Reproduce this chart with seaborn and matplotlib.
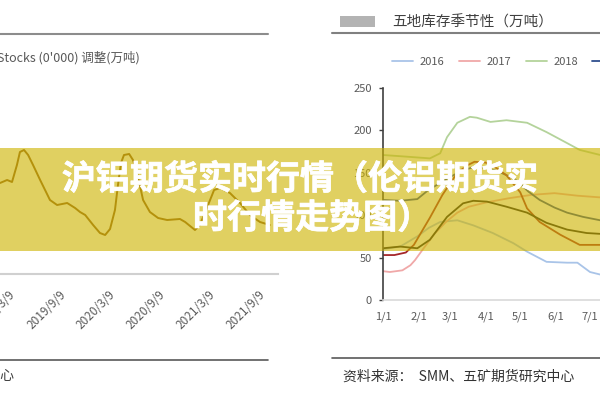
import pandas as pd
import numpy as np
import matplotlib
matplotlib.use("Agg")
import matplotlib.pyplot as plt
import matplotlib.patheffects as pe
import seaborn as sns
from matplotlib.lines import Line2D
from matplotlib.patches import Rectangle

# Left panel: stocks series (万吨)
stock_dates = ['2019-02-05', '2019-03-03', '2019-03-21', '2019-04-08', '2019-04-19',
               '2019-05-04', '2019-05-19', '2019-06-06', '2019-07-02', '2019-08-07',
               '2019-09-02', '2019-10-09', '2019-11-07', '2019-11-25', '2019-12-14',
               '2020-01-12', '2020-02-06', '2020-02-25', '2020-03-14', '2020-04-01',
               '2020-04-12', '2020-04-23', '2020-05-04', '2020-05-23', '2020-06-06',
               '2020-06-21', '2020-07-13', '2020-08-07', '2020-09-06', '2020-10-09',
               '2020-11-25', '2020-12-14', '2021-01-01', '2021-01-19', '2021-02-06',
               '2021-03-08', '2021-03-30', '2021-04-21', '2021-05-27', '2021-07-03',
               '2021-08-08', '2021-09-14', '2021-10-20']
stock_values = [91, 94, 92, 109, 122, 124, 119, 109, 94, 74,
                69, 71, 66, 62, 59, 49, 41, 39, 45, 64,
                89, 111, 119, 120, 114, 101, 74, 62, 56, 54,
                55, 52, 48, 44, 49, 69, 84, 86, 81, 71,
                59, 52, 49]
stock_ticks = ['2019-03-09', '2019-09-09', '2020-03-09', '2020-09-09', '2021-03-09', '2021-09-09']
stock_tick_labels = ['2019/3/9', '2019/9/9', '2020/3/9', '2020/9/9', '2021/3/9', '2021/9/9']

# Right panel: five-region inventory seasonality, day of year -> 万吨
days_2016 = [0, 15, 30, 40, 50, 65, 79, 96, 114, 126, 143, 161, 170, 181, 190]
vals_2016 = [60, 63, 75, 85, 92, 94, 88, 79, 67, 57, 45, 44, 44, 33, 30]
days_2017 = [0, 6, 17, 24, 28, 35, 45, 55, 65, 75, 90, 110, 130, 150, 170, 190]
vals_2017 = [34, 33, 35, 41, 47, 60, 78, 92, 103, 110, 115, 120, 124, 126, 123, 121]
days_2018 = [0, 21, 41, 50, 56, 65, 76, 82, 94, 108, 126, 143, 161, 172, 190]
vals_2018 = [171, 169, 167, 173, 192, 209, 216, 215, 210, 212, 209, 198, 185, 177, 171]
days_2019 = [0, 15, 30, 40, 50, 60, 70, 80, 90, 100, 110, 117, 127, 137, 150, 161, 175, 190]
vals_2019 = [118, 117, 119, 130, 138, 146, 153, 157, 156, 152, 146, 141, 128, 118, 109, 103, 98, 94]
days_2020 = [0, 10, 20, 27, 41, 52, 58, 65, 74, 80, 90, 100, 108, 120, 126, 137, 155, 172, 190]
vals_2020 = [53, 53, 56, 65, 97, 124, 136, 150, 159, 163, 162, 155, 147, 127, 108, 92, 77, 65, 65]
days_2021 = [0, 15, 30, 41, 56, 70, 79, 91, 108, 126, 143, 161, 178, 190]
vals_2021 = [61, 63, 61, 71, 98, 114, 117, 116, 110, 103, 91, 83, 79, 78]

years = ['2016', '2017', '2018', '2019', '2020', '2021']
year_colors = ['#a9c4e8', '#f0a8a8', '#b4d39b', '#2f4f8f', '#a5262a', '#1c1c1c']
month_days = [0, 31, 59, 90, 120, 151, 181]
month_labels = ['1/1', '2/1', '3/1', '4/1', '5/1', '6/1', '7/1']

sns.set_style('white')
plt.rcParams['font.family'] = ['Noto Sans CJK SC', 'DejaVu Sans']

fig = plt.figure(figsize=(6, 4), dpi=100)
fig.patch.set_facecolor('white')

# ---- left panel ----
axL = fig.add_axes([0, 0.315, 0.4633, 0.5])
sns.lineplot(x=pd.to_datetime(stock_dates), y=stock_values, ax=axL,
             color='#8c5a1e', lw=1.4)
axL.set_xlim(pd.Timestamp('2019-02-05'), pd.Timestamp('2021-11-19'))
axL.set_ylim(0, 200)
axL.set_xticks(pd.to_datetime(stock_ticks))
axL.set_xticklabels(stock_tick_labels, rotation=45, ha='right',
                    rotation_mode='anchor', fontsize=8.5, color='#595959')
axL.tick_params(axis='x', length=0, pad=10)
axL.set_yticks([])
axL.set_xlabel('')
axL.set_ylabel('')
for s in ['top', 'left', 'right']:
    axL.spines[s].set_visible(False)
axL.spines['bottom'].set_color('#d0d0d0')
axL.spines['bottom'].set_linewidth(1.5)
axL.set_facecolor('none')

# ---- right panel ----
frames = []
for yr, d, v in zip(years, [days_2016, days_2017, days_2018, days_2019, days_2020, days_2021],
                    [vals_2016, vals_2017, vals_2018, vals_2019, vals_2020, vals_2021]):
    frames.append(pd.DataFrame({'day': d, 'stock': v, 'year': yr}))
season = pd.concat(frames, ignore_index=True)
palette = dict(zip(years, year_colors))

axR = fig.add_axes([0.6383, 0.25, 0.5, 0.53])
sns.lineplot(data=season, x='day', y='stock', hue='year', palette=palette,
             ax=axR, lw=1.3, legend=False)
axR.set_xlim(0, 262.3)
axR.set_ylim(0, 250)
axR.set_yticks([0, 50, 100, 150, 200, 250])
axR.set_xticks(month_days)
axR.set_xticklabels(month_labels)
axR.tick_params(axis='x', length=0, pad=8, labelsize=8, labelcolor='#595959')
axR.tick_params(axis='y', length=3, width=1, direction='out', pad=5,
                labelsize=8, labelcolor='#595959', color='#404040', left=True)
axR.set_xlabel('')
axR.set_ylabel('')
for s in ['top', 'right']:
    axR.spines[s].set_visible(False)
axR.spines['left'].set_color('#404040')
axR.spines['left'].set_linewidth(1.2)
axR.spines['bottom'].set_color('#d9d9d9')
axR.spines['bottom'].set_linewidth(1.2)
axR.set_facecolor('none')

handles = [Line2D([], [], color=c, lw=1.3) for c in year_colors]
leg = fig.legend(handles, years, loc='center left', bbox_to_anchor=(0.653, 0.845),
                 ncol=6, frameon=False, fontsize=8, handlelength=1.9,
                 handletextpad=0.6, columnspacing=1.3, borderpad=0, borderaxespad=0)
for t in leg.get_texts():
    t.set_color('#595959')

# ---- headers, rules and footers ----
fig.add_artist(Line2D([0, 0.4467], [0.915, 0.915], transform=fig.transFigure,
                      color='#8c8c8c', lw=1.5))
fig.add_artist(Line2D([0.5533, 1], [0.9175, 0.9175], transform=fig.transFigure,
                      color='#808080', lw=1.5))
fig.add_artist(Line2D([0, 0.4467], [0.1, 0.1], transform=fig.transFigure,
                      color='#595959', lw=1.2))
fig.add_artist(Line2D([0.5533, 1], [0.105, 0.105], transform=fig.transFigure,
                      color='#595959', lw=1.2))
fig.add_artist(Rectangle((0.5667, 0.9325), 0.0583, 0.0275, transform=fig.transFigure,
                         color='#b3b3b3', lw=0))

fig.text(-0.005, 0.855, "Stocks (0'000) 调整(万吨)", fontsize=9, color='#595959',
         ha='left', va='center')
fig.text(0.653, 0.945, '五地库存季节性（万吨）', fontsize=10.5, color='#404040',
         ha='left', va='center')
fig.text(0.0233, 0.06, '五矿期货研究中心', fontsize=10, color='#404040',
         ha='right', va='center')
fig.text(0.5717, 0.0575, '资料来源：  SMM、五矿期货研究中心', fontsize=10,
         color='#333333', ha='left', va='center')

# ---- yellow banner with title ----
fig.add_artist(Rectangle((0, 0.3725), 1, 0.2575, transform=fig.transFigure,
                         facecolor=(205 / 255, 179 / 255, 0), alpha=0.62, lw=0,
                         zorder=5))
thick = [pe.withStroke(linewidth=0.5, foreground='white')]
fig.text(0.103, 0.5525, '沪铝期货实时行情（伦铝期货实', fontsize=24.5, fontweight='bold',
         color='white', ha='left', va='center', zorder=6, path_effects=thick)
fig.text(0.3217, 0.455, '时行情走势图）', fontsize=24.5, fontweight='bold',
         color='white', ha='left', va='center', zorder=6, path_effects=thick)

fig.savefig('out.png', dpi=100)
